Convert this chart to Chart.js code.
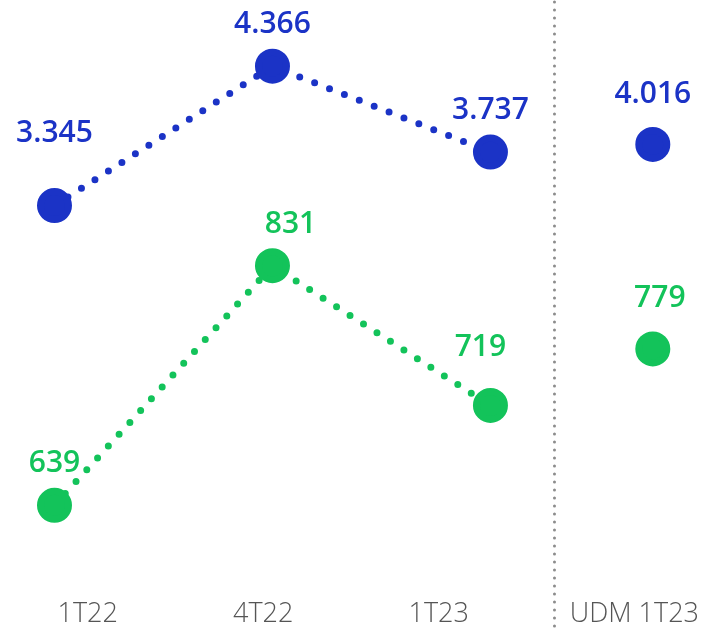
<!DOCTYPE html>
<html>
<head>
<meta charset="utf-8">
<script src="https://cdn.jsdelivr.net/npm/chart.js@4.4.1/dist/chart.umd.min.js"></script>
<style>
  html, body { margin: 0; padding: 0; background: #fff; }
  #wrap { width: 704px; height: 630px; position: relative; }
</style>
</head>
<body>
<div id="wrap"><canvas id="kpiChart"></canvas></div>
<script>
// Values
const periods = ['1T22', '4T22', '1T23'];
const udmLabel = 'UDM 1T23';
const blueValues = [3345, 4366, 3737];
const greenValues = [639, 831, 719];
const blueUdm = [4016];
const greenUdm = [779];

const BLUE = '#1b33c6';
const GREEN = '#13c35a';

// thousands separator with a dot, as in the original
function fmt(v) {
    return String(v).replace(/\B(?=(\d{3})+(?!\d))/g, '.');
}

// Draw the value labels above each point
const valueLabels = {
    id: 'valueLabels',
    afterDatasetsDraw(chart) {
        const ctx = chart.ctx;
        ctx.save();
        ctx.font = '600 30px "Open Sans", sans-serif';
        ctx.textAlign = 'center';
        ctx.textBaseline = 'middle';
        chart.data.datasets.forEach((ds, i) => {
            const meta = chart.getDatasetMeta(i);
            ctx.fillStyle = ds.borderColor;
            meta.data.forEach((pt, j) => {
                const lift = ds.labelLift ? ds.labelLift[j] : 46;
                const shift = ds.labelShift ? ds.labelShift[j] : 0;
                ctx.fillText(fmt(ds.data[j].y), pt.x + shift, pt.y - lift);
            });
        });
        ctx.restore();
    }
};

// Dotted divider between the quarters and the UDM column
const divider = {
    id: 'divider',
    beforeDatasetsDraw(chart) {
        const { ctx, chartArea } = chart;
        const x = chartArea.left + chartArea.width * 0.79;
        ctx.save();
        ctx.strokeStyle = '#8c8c8c';
        ctx.lineWidth = 3;
        ctx.lineCap = 'round';
        ctx.setLineDash([0, 8]);
        ctx.beginPath();
        ctx.moveTo(x, 2);
        ctx.lineTo(x, chart.height - 2);
        ctx.stroke();
        ctx.restore();
    }
};

function toPoints(values) {
    return values.map((v, i) => ({ x: i, y: v }));
}

const dotted = {
    borderWidth: 7,
    borderDash: [0, 16],
    borderCapStyle: 'round',
    pointRadius: 14,
    pointHoverRadius: 14,
    tension: 0,
    fill: false,
    clip: false
};

new Chart(document.getElementById('kpiChart').getContext('2d'), {
    type: 'line',
    data: {
        labels: periods.concat([udmLabel]),
        datasets: [
            Object.assign({}, dotted, {
                label: 'blue',
                data: toPoints(blueValues),
                borderColor: BLUE,
                backgroundColor: BLUE,
                xAxisID: 'xp',
                yAxisID: 'yBlue',
                labelLift: [72, 42, 42]
            }),
            Object.assign({}, dotted, {
                label: 'green',
                data: toPoints(greenValues),
                borderColor: GREEN,
                backgroundColor: GREEN,
                xAxisID: 'xp',
                yAxisID: 'yGreen',
                labelLift: [42, 41, 58],
                labelShift: [0, 18, -10]
            }),
            Object.assign({}, dotted, {
                label: 'blue udm',
                data: toPoints(blueUdm),
                borderColor: BLUE,
                backgroundColor: BLUE,
                xAxisID: 'xu',
                yAxisID: 'yBlueUdm',
                labelLift: [50]
            }),
            Object.assign({}, dotted, {
                label: 'green udm',
                data: toPoints(greenUdm),
                borderColor: GREEN,
                backgroundColor: GREEN,
                xAxisID: 'xu',
                yAxisID: 'yGreenUdm',
                labelLift: [50],
                labelShift: [7]
            })
        ]
    },
    options: {
        responsive: true,
        maintainAspectRatio: false,
        animation: false,
        layout: { autoPadding: false, padding: 0 },
        plugins: {
            legend: { display: false },
            tooltip: { enabled: false }
        },
        scales: {
            x: {
                type: 'category',
                position: 'bottom',
                offset: true,
                grid: { display: false, drawTicks: false },
                border: { display: false },
                ticks: {
                    padding: 5,
                    color: '#555',
                    font: { family: '"Open Sans", sans-serif', size: 27, weight: '300', lineHeight: 0.76 },
                    // the UDM column sits a little further right, past the divider
                    callback: function(value, index) {
                        const lbl = this.getLabelForValue(value);
                        return index === 3 ? '\u2002\u2002\u2002' + lbl : lbl;
                    }
                }
            },
            xp: { type: 'linear', display: false, min: -0.25, max: 2.97 },
            xu: { type: 'linear', display: false, min: -6.65, max: 0.5 },
            yBlue: { display: false, min: 458, max: 4851 },
            yGreen: { display: false, min: 563.5, max: 1044 },
            yBlueUdm: { display: false, min: 681.5, max: 5074 },
            yGreenUdm: { display: false, min: 578.2, max: 1058.6 }
        }
    },
    plugins: [divider, valueLabels]
});
</script>
</body>
</html>
